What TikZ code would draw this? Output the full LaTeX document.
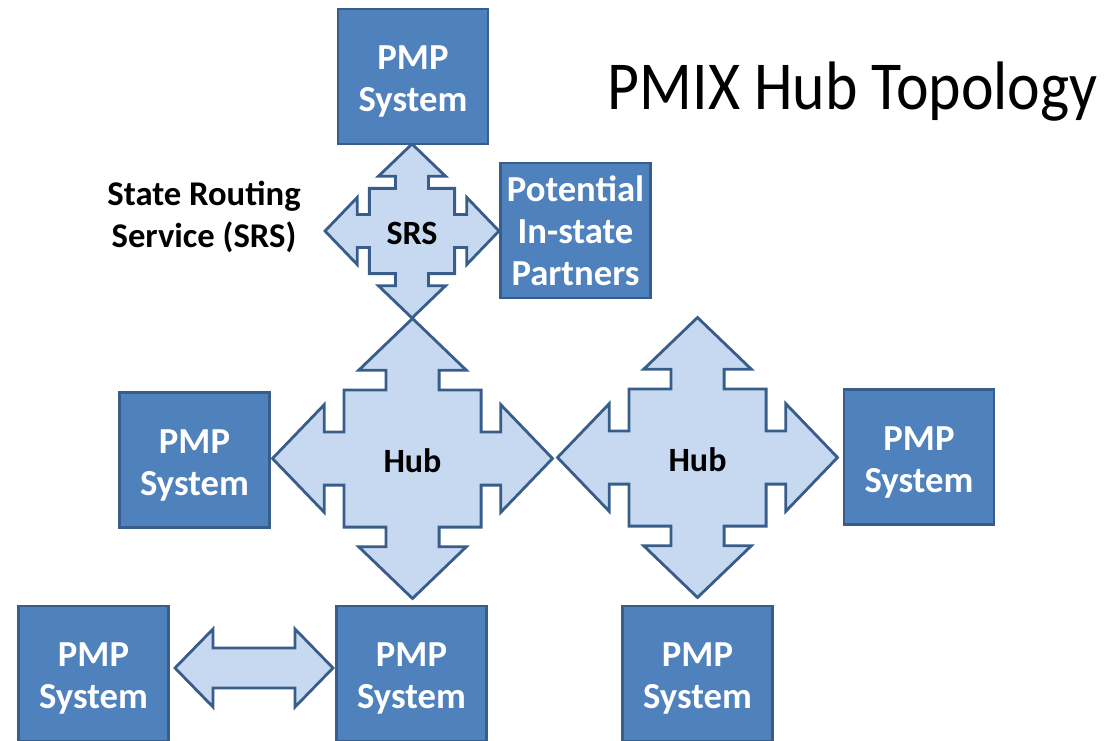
\documentclass[tikz,border=0pt]{standalone}
\usepackage{fontspec}
\setmainfont{Carlito}
\newfontfamily\titlefont[FakeStretch=0.9]{Carlito}
\usetikzlibrary{positioning}
\definecolor{boxfill}{HTML}{4F81BD}
\definecolor{boxline}{HTML}{385D8A}
\definecolor{arrowfill}{HTML}{C6D9F1}
\tikzset{
  pmpbox/.style={draw=boxline, fill=boxfill, line width=2.1pt, text=white, align=center,
    minimum width=112.5pt, minimum height=101.25pt, inner sep=0pt,
    font=\bfseries\fontsize{27.5}{31.5}\selectfont},
  blockarrow/.style={draw=boxline, fill=arrowfill, line width=2.1pt, line join=miter},
  arrowlabel/.style={font=\bfseries\fontsize{25.5}{30}\selectfont, yshift=-2pt}
}
\newcommand{\pmptext}{\rule{0pt}{26pt}PMP\\System}
% four-headed block arrow: name, centre, half size, label
\newcommand{\quadarrow}[4]{%
  \begin{scope}[shift={(#2)}, scale=#3]
    \draw[blockarrow] (0,1) -- (0.385,0.63) -- (0.19,0.63) -- (0.19,0.49) -- (0.49,0.49)
      -- (0.49,0.19) -- (0.63,0.19) -- (0.63,0.385) -- (1,0) -- (0.63,-0.385) -- (0.63,-0.19)
      -- (0.49,-0.19) -- (0.49,-0.49) -- (0.19,-0.49) -- (0.19,-0.63) -- (0.385,-0.63)
      -- (0,-1) -- (-0.385,-0.63) -- (-0.19,-0.63) -- (-0.19,-0.49) -- (-0.49,-0.49)
      -- (-0.49,-0.19) -- (-0.63,-0.19) -- (-0.63,-0.385) -- (-1,0) -- (-0.63,0.385)
      -- (-0.63,0.19) -- (-0.49,0.19) -- (-0.49,0.49) -- (-0.19,0.49) -- (-0.19,0.63)
      -- (-0.385,0.63) -- cycle;
  \end{scope}
  \node[arrowlabel] (#1) at (#2) {#4};
}
\begin{document}
\begin{tikzpicture}[x=0.75pt, y=-0.75pt]
  \useasboundingbox (0,0) rectangle (1109,741);

  % hubs and routing service
  \quadarrow{srs}{412,231}{87}{SRS}
  \quadarrow{hubA}{412.5,458.5}{140}{Hub}
  \quadarrow{hubB}{697.5,457.5}{140}{Hub}

  % systems
  \node[pmpbox] (pmpTop) at (413,76.5) {\pmptext};
  \node[pmpbox] (partners) at (575.5,230.5) {Potential\\In-state\\Partners};
  \node[pmpbox] (pmpL) at (194.5,460) {\pmptext};
  \node[pmpbox] (pmpR) at (919,457) {\pmptext};
  \node[pmpbox] (pmpBL) at (93.5,673.5) {\pmptext};
  \node[pmpbox] (pmpBM) at (411.5,673.5) {\pmptext};
  \node[pmpbox] (pmpBR) at (697.5,673.5) {\pmptext};

  % direct link between two systems
  \coordinate (link) at (254,668);
  \draw[blockarrow, shift={(link)}] (-79,0) -- (-41,-39) -- (-41,-20) -- (41,-20) -- (41,-39)
    -- (79,0) -- (41,39) -- (41,20) -- (-41,20) -- (-41,39) -- cycle;

  \node[font=\bfseries\fontsize{26}{31.5}\selectfont, align=center] (srscap) at (204,217)
    {State Routing\\Service (SRS)};
  \node[font=\titlefont\fontsize{51.5}{60}\selectfont, anchor=base west] (title) at (603,110)
    {PMIX Hub Topology};
\end{tikzpicture}
\end{document}
